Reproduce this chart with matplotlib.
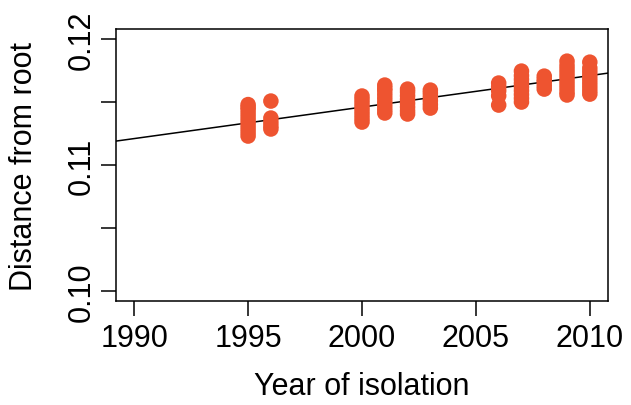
import matplotlib
matplotlib.use('Agg')
import matplotlib.pyplot as plt

# distances from root, per year of isolation
vals_1995 = [0.1123, 0.1126, 0.1129, 0.1132, 0.1135, 0.1138, 0.1141, 0.1144, 0.1146, 0.1148]
vals_1996 = [0.11286, 0.1131, 0.1134, 0.11373, 0.11508]
vals_2000 = [0.11341, 0.1137, 0.1140, 0.1143, 0.1146, 0.1149, 0.1152, 0.11548]
vals_2001 = [0.11413, 0.1144, 0.1147, 0.1150, 0.1153, 0.1156, 0.1159, 0.1161, 0.11635]
vals_2002 = [0.11405, 0.1143, 0.1146, 0.1149, 0.1152, 0.1155, 0.1158, 0.11603]
vals_2003 = [0.11452, 0.1148, 0.1151, 0.1154, 0.1157, 0.11595]
vals_2006 = [0.11476, 0.1155, 0.1159, 0.1162, 0.11651]
vals_2007 = [0.1150, 0.1153, 0.1156, 0.1159, 0.1162, 0.1165, 0.1168, 0.1171, 0.11746]
vals_2008 = [0.11603, 0.1163, 0.1166, 0.1168, 0.11706]
vals_2009 = [0.11556, 0.1158, 0.1161, 0.1164, 0.1167, 0.1170, 0.1173, 0.1176, 0.1179, 0.11825]
vals_2010 = [0.11563, 0.1159, 0.1162, 0.1165, 0.1168, 0.1171, 0.1174, 0.1177, 0.11817]

groups = {1995: vals_1995, 1996: vals_1996, 2000: vals_2000,
          2001: vals_2001, 2002: vals_2002, 2003: vals_2003,
          2006: vals_2006, 2007: vals_2007, 2008: vals_2008,
          2009: vals_2009, 2010: vals_2010}

# fitted root-to-tip line
fit_x = [1989.2, 2010.8]
fit_y = [0.1119, 0.1173]

plt.rcParams['font.family'] = ['Liberation Sans', 'DejaVu Sans']

fig = plt.figure(figsize=(6.31, 4.06), dpi=100)
ax = fig.add_axes([0.1838, 0.2562, 0.7798, 0.6698])

for yr, vals in groups.items():
    ax.scatter([yr] * len(vals), vals, s=125, color='#EE5430', edgecolors='none', zorder=3)

ax.plot(fit_x, fit_y, color='black', lw=1.1, zorder=2)

ax.set_xlim(1989.2, 2010.8)
ax.set_ylim(0.0992, 0.1208)
ax.set_xticks([1990, 1995, 2000, 2005, 2010])
ax.set_yticks([0.100, 0.105, 0.110, 0.115, 0.120])
ax.set_yticklabels(['0.10', '', '0.11', '', '0.12'], rotation=90, va='center')
ax.tick_params(axis='both', labelsize=22, length=11, width=1.1, direction='out')
ax.tick_params(axis='x', pad=5)
ax.tick_params(axis='y', pad=3)
for sp in ax.spines.values():
    sp.set_linewidth(1.1)

ax.set_xlabel('Year of isolation', fontsize=22, labelpad=13)
ax.set_ylabel('Distance from root', fontsize=22, labelpad=20)

fig.savefig('out.png', dpi=100)
